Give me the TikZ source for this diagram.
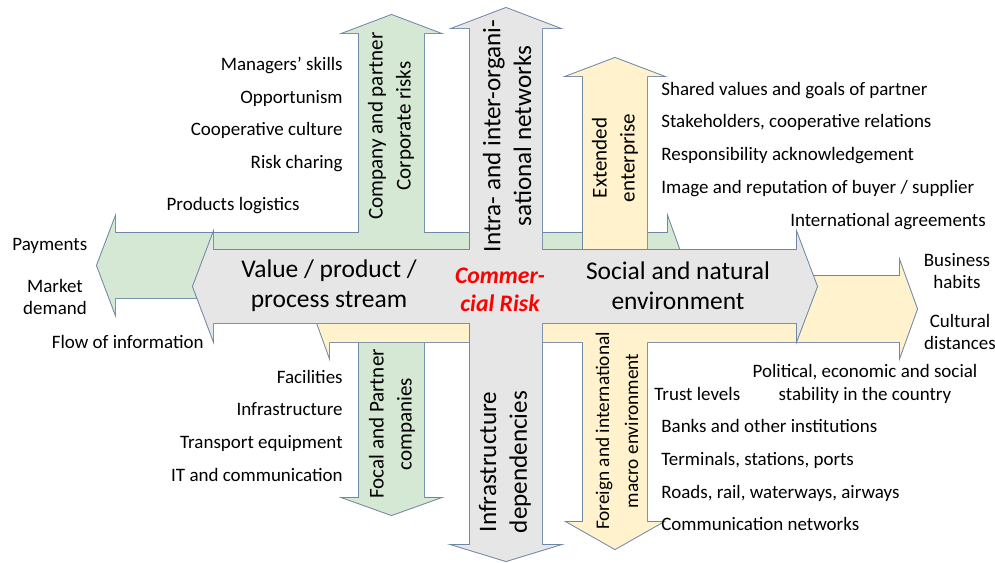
\documentclass[tikz,border=0pt]{standalone}
\usepackage{fontspec}
\setmainfont{Carlito}
\definecolor{gfill}{HTML}{D5E8D4}
\definecolor{yfill}{HTML}{FFF2CC}
\definecolor{kfill}{HTML}{E6E6E6}
\definecolor{edge}{HTML}{6F86A6}
\newcommand\harrowpath[7]{(#1,#3) -- ({#1+#4},{#3-#7}) -- ({#1+#4},{#3-#6}) -- ({#2-#5},{#3-#6}) -- ({#2-#5},{#3-#7}) -- (#2,#3) -- ({#2-#5},{#3+#7}) -- ({#2-#5},{#3+#6}) -- ({#1+#4},{#3+#6}) -- ({#1+#4},{#3+#7}) -- cycle}
\newcommand\varrowpath[7]{(#3,#1) -- ({#3+#7},{#1+#4}) -- ({#3+#6},{#1+#4}) -- ({#3+#6},{#2-#5}) -- ({#3+#7},{#2-#5}) -- (#3,#2) -- ({#3-#7},{#2-#5}) -- ({#3-#6},{#2-#5}) -- ({#3-#6},{#1+#4}) -- ({#3-#7},{#1+#4}) -- cycle}
\begin{document}
\begin{tikzpicture}[x=0.02cm,y=-0.02cm,
  outl/.style={draw=edge,line width=1.1pt},
  item/.style={font=\fontsize{10.8}{13}\selectfont,inner sep=0pt},
  big/.style={font=\fontsize{14.5}{17}\selectfont,align=center,inner sep=0pt},
  vmid/.style={font=\fontsize{12}{16}\selectfont,align=center,rotate=90,inner sep=0pt},
  vbig/.style={font=\fontsize{14.3}{17.5}\selectfont,align=center,rotate=90,inner sep=0pt},
  risk/.style={font=\fontsize{13.5}{16}\selectfont\bfseries\itshape,text=red,align=center,inner sep=0pt}]
\useasboundingbox (0,0) rectangle (995,562);
% green group
\draw[outl] \harrowpath{97}{685}{265.5}{18}{17}{32.5}{47.5};
\draw[outl] \varrowpath{15}{515}{391.5}{18}{17}{32.5}{47.5};
\fill[gfill] \harrowpath{97}{685}{265.5}{18}{17}{32.5}{47.5};
\fill[gfill] \varrowpath{15}{515}{391.5}{18}{17}{32.5}{47.5};
% yellow group
\draw[outl] \harrowpath{312}{917}{309}{17}{17}{33}{47};
\draw[outl] \varrowpath{58}{549}{615}{18}{27}{32}{47.5};
\fill[yfill] \harrowpath{312}{917}{309}{17}{17}{33}{47};
\fill[yfill] \varrowpath{58}{549}{615}{18}{27}{32}{47.5};
% grey group
\draw[outl] \harrowpath{193}{817}{286.5}{20}{20}{36.5}{53};
\draw[outl] \varrowpath{8}{561}{506}{20}{16}{36}{52.5};
\fill[kfill] \harrowpath{193}{817}{286.5}{20}{20}{36.5}{53};
\fill[kfill] \varrowpath{8}{561}{506}{20}{16}{36}{52.5};
% main labels
\node[big] (vps) at (329,286) {Value / product /\\process stream};
\node[big] (sne) at (678,286) {Social and natural\\environment};
\node[risk] (cr) at (500,290) {Commer-\\cial Risk};
\node[vmid] (cpc) at (391,126) {Company and partner\\Corporate risks};
\node[vbig] (iio) at (507,136) {Intra- and inter-organi-\\sational networks};
\node[vmid] (ext) at (615,158) {Extended\\enterprise};
\node[vmid] (fpc) at (392,424) {Focal and Partner\\companies};
\node[vbig] (ifd) at (505,462) {Infrastructure\\dependencies};
\node[vmid,font=\fontsize{11}{16.5}\selectfont] (fim) at (617,431) {Foreign and international\\macro environment};
% upper left list
\node[item,anchor=base east] (ms) at (343,70) {Managers’ skills};
\node[item,anchor=base east] (op) at (343,103) {Opportunism};
\node[item,anchor=base east] (cc) at (343,135) {Cooperative culture};
\node[item,anchor=base east] (rc) at (343,168) {Risk charing};
\node[item,anchor=base east] (pl) at (300,210) {Products logistics};
% left
\node[item,anchor=base west] (pay) at (12,250) {Payments};
\node[item,align=center] (md) at (55,297) {Market\\demand};
\node[item,anchor=base east] (foi) at (204,348) {Flow of information};
% lower left list
\node[item,anchor=base east] (fac) at (343,383) {Facilities};
\node[item,anchor=base east] (inf) at (343,415) {Infrastructure};
\node[item,anchor=base east] (te) at (343,448) {Transport equipment};
\node[item,anchor=base east] (itc) at (343,481) {IT and communication};
% upper right list
\node[item,anchor=base west] (sv) at (661,95) {Shared values and goals of partner};
\node[item,anchor=base west] (sh) at (661,127) {Stakeholders, cooperative relations};
\node[item,anchor=base west] (ra) at (661,160) {Responsibility acknowledgement};
\node[item,anchor=base west] (ir) at (661,193) {Image and reputation of buyer / supplier};
\node[item,anchor=base east] (ia) at (986,226) {International agreements};
% right
\node[item,align=center] (bh) at (957,271) {Business\\habits};
\node[item,align=center] (cd) at (960,332) {Cultural\\distances};
% lower right list
\node[item,align=center] (pes) at (865,384) {Political, economic and social\\stability in the country};
\node[item,anchor=base west] (tl) at (654,400) {Trust levels};
\node[item,anchor=base west] (bo) at (661,432) {Banks and other institutions};
\node[item,anchor=base west] (tsp) at (661,465) {Terminals, stations, ports};
\node[item,anchor=base west] (rrw) at (661,498) {Roads, rail, waterways, airways};
\node[item,anchor=base west] (cn) at (661,530) {Communication networks};
\end{tikzpicture}
\end{document}
